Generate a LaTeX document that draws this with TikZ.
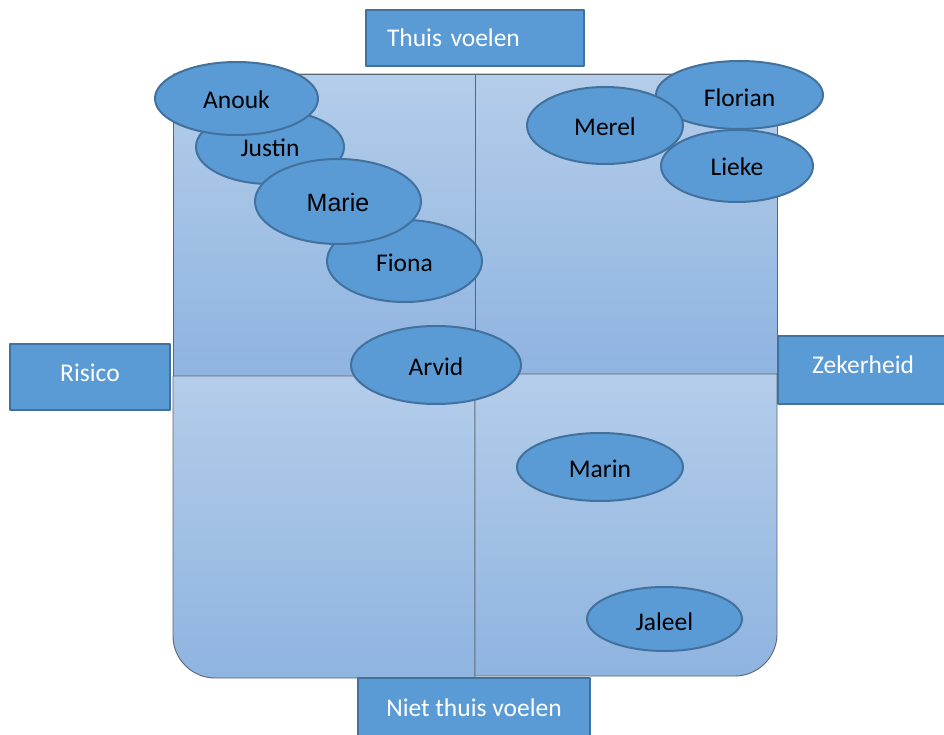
\documentclass[tikz,border=0pt]{standalone}
\usepackage{fontspec}
\setmainfont{Carlito}
\newfontfamily\arialfont{Liberation Sans}
\usetikzlibrary{shapes.geometric}
\definecolor{cellTop}{HTML}{B4CDEA}
\definecolor{cellBot}{HTML}{8FB4E0}
\definecolor{bubbleFill}{HTML}{5B9BD5}
\definecolor{bubbleLine}{HTML}{41719C}
\definecolor{cellLine}{HTML}{5A6672}
\begin{document}
\begin{tikzpicture}[x=1pt, y=-1pt, line join=round, line cap=round,
	font={\fontsize{25.5pt}{30pt}\selectfont},
	cell/.style={draw=cellLine, line width=0.9pt, top color=cellTop, bottom color=cellBot},
	bubble/.style={ellipse, draw=bubbleLine, fill=bubbleFill, line width=2pt, inner sep=0pt, text=black, text height=21pt, text depth=1pt},
	axisbox/.style={rectangle, draw=bubbleLine, fill=bubbleFill, line width=2pt, text=white}]
		% Khung
		\useasboundingbox (0,0) rectangle (944,735);
		\draw[cell] (173,74) rectangle (475,376);
		\draw[cell] (475,74) rectangle (777,374);
		\draw[cell] (173,376) -- (475,376) -- (475,678) -- (215,678) .. controls (192,678) and (173,659) .. (173,636) -- cycle;
		\draw[cell] (475,374) -- (777,374) -- (777,634) .. controls (777,657) and (758,676) .. (735,676) -- (475,676) -- cycle;
		% Assen
		\node[axisbox, minimum height=56pt, text width=176pt, inner xsep=21pt, align=left] (thuis) at (475,38) {Thuis voelen};
		\node[axisbox, minimum width=160pt, minimum height=66pt, text depth=8pt] (risico) at (90,377) {Risico};
		\node[axisbox, minimum width=170pt, minimum height=68pt, text depth=10pt] (zekerheid) at (863,370) {Zekerheid};
		\node[axisbox, minimum width=232pt, minimum height=60pt] (niet) at (474,708) {Niet thuis voelen};
		% Namen
		\node[bubble, minimum width=148pt, minimum height=74pt] (justin) at (270,147) {Justin};
		\node[bubble, minimum width=163pt, minimum height=73pt] (anouk) at (236.5,98.5) {Anouk};
		\node[bubble, minimum width=155pt, minimum height=82pt] (fiona) at (404.5,261) {Fiona};
		\node[bubble, minimum width=166pt, minimum height=85pt, font={\arialfont\fontsize{25pt}{30pt}\selectfont}] (marie) at (338,201.5) {Marie};
		\node[bubble, minimum width=170pt, minimum height=78pt] (arvid) at (436,365) {Arvid};
		\node[bubble, minimum width=167pt, minimum height=68pt, text height=25pt] (florian) at (739.5,95) {Florian};
		\node[bubble, minimum width=156pt, minimum height=77pt] (merel) at (605,125.5) {Merel};
		\node[bubble, minimum width=152pt, minimum height=72pt] (lieke) at (737,166) {Lieke};
		\node[bubble, minimum width=166pt, minimum height=68pt] (marin) at (600,467) {Marin};
		\node[bubble, minimum width=155pt, minimum height=64pt, text height=24pt] (jaleel) at (664.5,619) {Jaleel};
\end{tikzpicture}
\end{document}
